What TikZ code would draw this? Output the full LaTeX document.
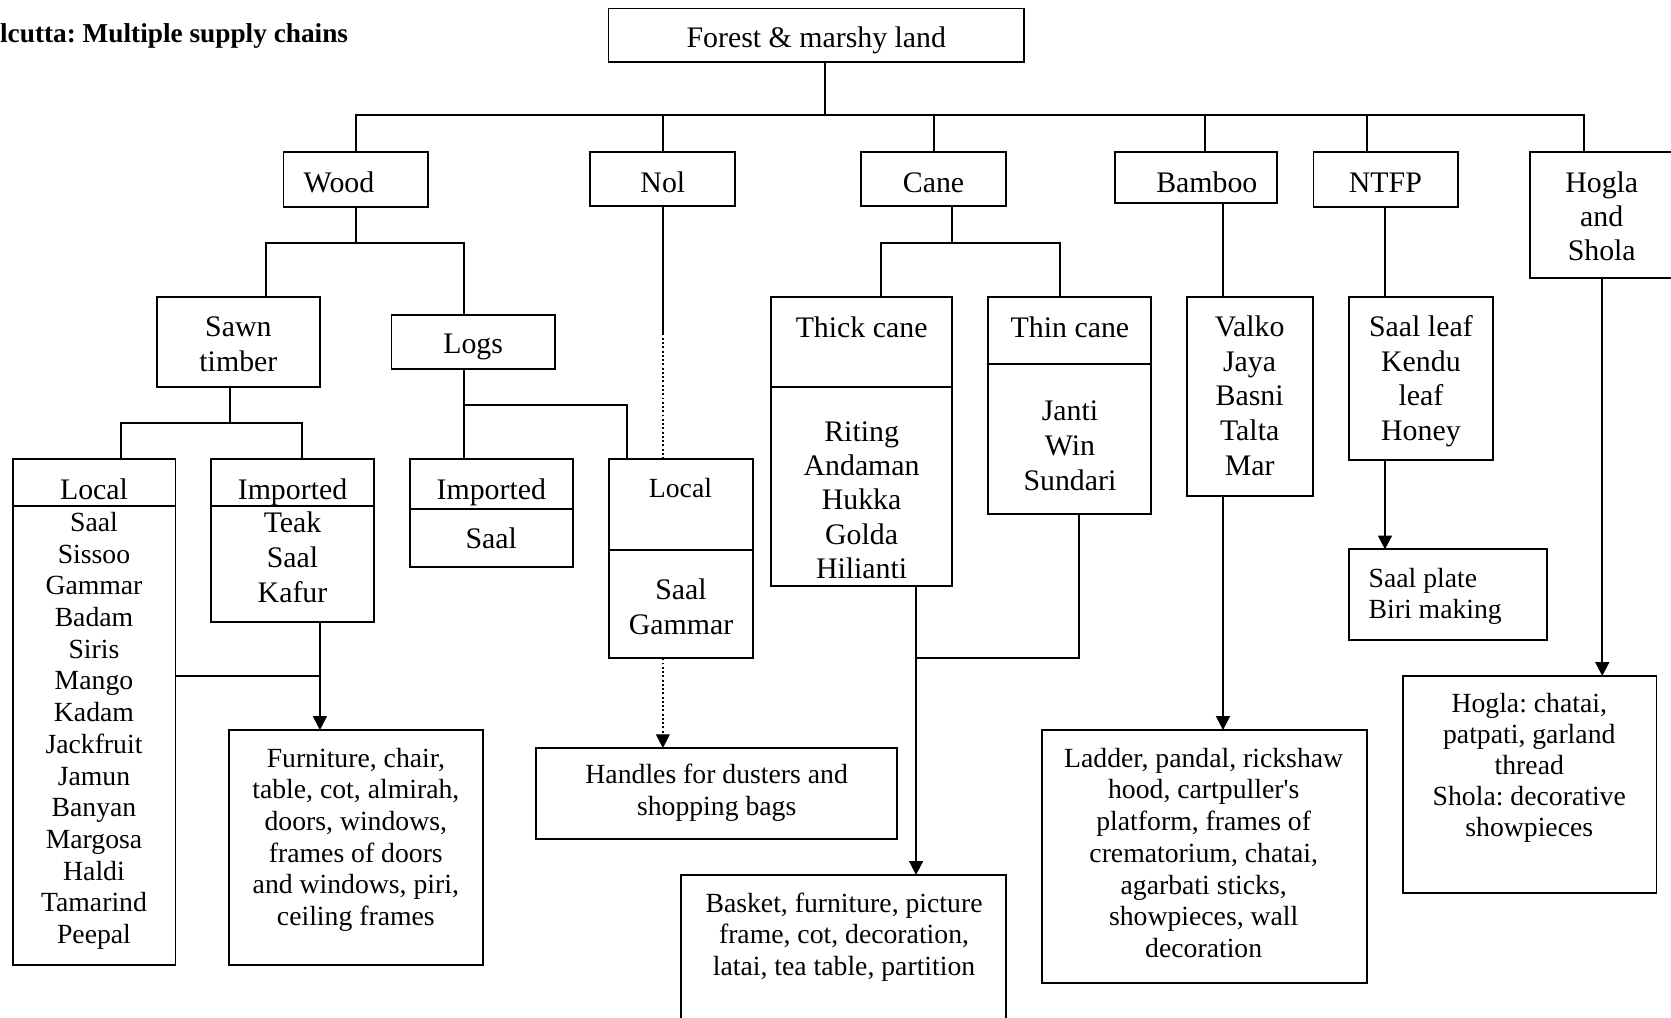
\documentclass[tikz,border=0pt]{standalone}
\usepackage{fontspec}
\setmainfont{Liberation Serif}
\usetikzlibrary{arrows.meta,fit}
% invisible strut fixing the height of a first text line
\newcommand{\fl}{\rule{0pt}{10pt}}
\frenchspacing

\begin{document}
\begin{tikzpicture}[x=0.5pt,y=-0.5pt,
  line width=0.9pt,
  box/.style={draw, inner sep=0pt, outer sep=0pt},
  txt/.style={inner sep=0pt, outer sep=0pt, align=center, anchor=north, yshift=-1pt},
  bigf/.style={font=\fontsize{14}{#1}\selectfont},
  bigf/.default=16.4pt,
  smallf/.style={font=\fontsize{13}{#1}\selectfont},
  smallf/.default=14.9pt,
  arr/.style={-{Triangle[length=6.5pt,width=6.5pt]}},
  dots/.style={line width=0.6pt, dash pattern=on 0.9pt off 1.1pt},
]
\clip (0,0) rectangle (1568,955);

% ---------- title ----------
\node[font=\bfseries\fontsize{12.8}{15}\selectfont, anchor=base east, inner sep=0pt] (title)
  at (327.5,39.6) {lcutta: Multiple supply chains};

% ---------- boxes ----------
\node[box, fit={(571,8) (961,58)}] (forest) {};
\node[box, fit={(266,143) (402,194)}] (wood) {};
\node[box, fit={(554,143) (690,193)}] (nol) {};
\node[box, fit={(808,143) (944,193)}] (cane) {};
\node[box, fit={(1046,143) (1198,190.5)}] (bamboo) {};
\node[box, fit={(1232.5,143) (1368,194)}] (ntfp) {};
\node[box, fit={(1436,142.3) (1580,261.2)}] (hogla) {};

\node[box, fit={(147,278.4) (300.2,363.4)}] (sawn) {};
\node[box, fit={(367.4,295.3) (520.7,346.6)}] (logs) {};
\node[box, fit={(11.8,430.7) (164.7,905.5)}] (localw) {};
\node[box, fit={(198.2,430.7) (350.9,583.4)}] (impw) {};
\node[box, fit={(384.6,430.7) (537.6,532.4)}] (impl) {};
\node[box, fit={(571.2,431) (707,617.7)}] (localn) {};
\node[box, fit={(723.8,278.4) (893.3,549.6)}] (thick) {};
\node[box, fit={(927.4,278.4) (1080.4,482.3)}] (thin) {};
\node[box, fit={(1113.4,278.4) (1231.9,465.1)}] (valko) {};
\node[box, fit={(1265.6,278.4) (1400.9,431.7)}] (saalleaf) {};
\node[box, fit={(1265.6,515.5) (1451.7,600.6)}] (saalplate) {};

\node[box, fit={(214.9,685) (452.8,905.5)}] (furn) {};
\node[box, fit={(503,702) (842,787)}] (handles) {};
\node[box, fit={(639.3,821) (944,985)}] (basket) {};
\node[box, fit={(977.8,685) (1283,922.7)}] (ladder) {};
\node[box, fit={(1316.8,634.3) (1554.4,838.2)}] (hoglap) {};

% header dividers
\coordinate (dW) at (0,474.5);
\coordinate (dI) at (0,477.6);
\coordinate (dN) at (0,516);
\coordinate (dT) at (0,363.4);
\coordinate (dH) at (0,341.9);
\draw (localw.west |- dW) -- (localw.east |- dW);
\draw (impw.west |- dW) -- (impw.east |- dW);
\draw (impl.west |- dI) -- (impl.east |- dI);
\draw (localn.west |- dN) -- (localn.east |- dN);
\draw (thick.west |- dT) -- (thick.east |- dT);
\draw (thin.west |- dH) -- (thin.east |- dH);

% ---------- texts ----------
\node[txt, bigf] (t-forest) at (766,22.2) {\fl Forest \& marshy land};
\node[txt, bigf, anchor=north west] (t-wood) at (285,158.3) {\fl Wood};
\node[txt, bigf] (t-nol) at (622,158.3) {\fl Nol};
\node[txt, bigf] (t-cane) at (876,158.3) {\fl Cane};
\node[txt, bigf, anchor=north west] (t-bamboo) at (1085,158.3) {\fl Bamboo};
\node[txt, bigf] (t-ntfp) at (1300,158.3) {\fl NTFP};
\node[txt, bigf=16pt] (t-hogla) at (1503,158.3) {\fl Hogla\\and\\Shola};

\node[txt, bigf=16.45pt] (t-sawn) at (223.7,293.7) {\fl Sawn\\timber};
\node[txt, bigf] (t-logs) at (444,310) {\fl Logs};

\node[txt, bigf] (t-localw) at (88.2,446.5) {\fl Local};
\node[txt, smallf=14.88pt] (t-localw-l) at (88.2,476.6)
  {\fl Saal\\Sissoo\\Gammar\\Badam\\Siris\\Mango\\Kadam\\Jackfruit\\Jamun\\Banyan\\Margosa\\Haldi\\Tamarind\\Peepal};
\node[txt, bigf] (t-impw) at (274.5,446.5) {\fl Imported};
\node[txt, bigf=16.45pt] (t-impw-l) at (274.5,478) {\fl Teak\\Saal\\Kafur};
\node[txt, bigf] (t-impl) at (461,446.5) {\fl Imported};
\node[txt, bigf] (t-impl-l) at (461,493) {\fl Saal};
\node[txt, smallf] (t-localn) at (638.5,444.5) {\fl Local};
\node[txt, bigf=16.6pt] (t-localn-l) at (639,540.5) {\fl Saal\\Gammar};

\node[txt, bigf] (t-thick) at (808.5,294.4) {\fl Thick cane};
\node[txt, bigf=16.1pt] (t-thick-l) at (808.5,392)
  {\fl Riting\\Andaman\\Hukka\\Golda\\Hilianti};
\node[txt, bigf] (t-thin) at (1004,294.4) {\fl Thin cane};
\node[txt, bigf=16.45pt] (t-thin-l) at (1004,372.5) {\fl Janti\\Win\\Sundari};
\node[txt, bigf=16.3pt] (t-valko) at (1172.6,293.7) {\fl Valko\\Jaya\\Basni\\Talta\\Mar};
\node[txt, bigf=16.3pt] (t-saalleaf) at (1333.3,293.7) {\fl Saal leaf\\Kendu\\leaf\\Honey};
\node[txt, smallf=14.85pt, align=left, anchor=north west] (t-saalplate) at (1284.3,529)
  {\fl Saal plate\\Biri making};

\node[txt, smallf=14.85pt] (t-furn) at (333.9,697.8)
  {\fl Furniture, chair,\\table, cot, almirah,\\doors, windows,\\frames of doors\\and windows, piri,\\ceiling frames};
\node[txt, smallf=14.85pt] (t-handles) at (672.5,713.5)
  {\fl Handles for dusters and\\shopping bags};
\node[txt, smallf=14.9pt] (t-basket) at (792,833.9)
  {\fl Basket, furniture, picture\\frame, cot, decoration,\\latai, tea table, partition};
\node[txt, smallf=14.9pt] (t-ladder) at (1129.5,697.8)
  {\fl Ladder, pandal, rickshaw\\hood, cartpuller\textquotesingle s\\platform, frames of\\crematorium, chatai,\\agarbati sticks,\\showpieces, wall\\decoration};
\node[txt, smallf=14.6pt] (t-hoglap) at (1435,646.2)
  {\fl Hogla: chatai,\\patpati, garland\\thread\\Shola: decorative\\showpieces};

% ---------- connectors ----------
% top level bus
\coordinate (stem) at (774,108);
\coordinate (busL) at (334,108);
\coordinate (busR) at (1486.5,108);
\coordinate (xBam) at (1131,108);
\coordinate (xNt) at (1283,108);
\draw (forest.south -| stem) -- (stem);
\draw (wood.north) -- (busL) -- (busR) -- (hogla.north -| busR);
\draw (nol.north) -- (nol.north |- stem);
\draw (cane.north) -- (cane.north |- stem);
\draw (bamboo.north -| xBam) -- (xBam);
\draw (ntfp.north -| xNt) -- (xNt);

% wood branch
\coordinate (wJ) at (334,228);
\coordinate (wL) at (249.6,228);
\coordinate (wR) at (435.6,228);
\draw (wood.south) -- (wJ);
\draw (sawn.north -| wL) -- (wL) -- (wR) -- (logs.north -| wR);

% sawn timber branch
\coordinate (sJ) at (215.5,397.3);
\coordinate (sL) at (113.5,397.3);
\coordinate (sR) at (283.4,397.3);
\draw (sawn.south -| sJ) -- (sJ);
\draw (localw.north -| sL) -- (sL) -- (sR) -- (impw.north -| sR);

% logs branch
\coordinate (lJ) at (435.6,380);
\coordinate (lR) at (588,380);
\draw (logs.south -| lJ) -- (impl.north -| lJ);
\draw (lJ) -- (lR) -- (localn.north -| lR);

% nol chain
\coordinate (nX) at (622,313);
\draw (nol.south) -- (nX);
\draw[dots] (nX) -- (localn.north -| nX);
\draw[dots, arr] (localn.south -| nX) -- (handles.north -| nX);

% cane branch
\coordinate (cJ) at (893,227.7);
\coordinate (cL) at (826.3,227.7);
\coordinate (cR) at (994.9,227.7);
\draw (cane.south -| cJ) -- (cJ);
\draw (thick.north -| cL) -- (cL) -- (cR) -- (thin.north -| cR);
\coordinate (tK) at (859.6,617.2);
\coordinate (tN) at (1012.2,617.2);
\draw[arr] (thick.south -| tK) -- (basket.north -| tK);
\draw (thin.south -| tN) -- (tN) -- (tK);

% bamboo chain
\coordinate (bX) at (1147.6,200);
\draw (bamboo.south -| bX) -- (valko.north -| bX);
\draw[arr] (valko.south -| bX) -- (ladder.north -| bX);

% NTFP chain
\coordinate (nT) at (1299.6,200);
\draw (ntfp.south -| nT) -- (saalleaf.north -| nT);
\draw[arr] (saalleaf.south -| nT) -- (saalplate.north -| nT);

% hogla chain
\coordinate (hX) at (1503.5,300);
\draw[arr] (hogla.south -| hX) -- (hoglap.north -| hX);

% wood products
\coordinate (fJ) at (300.2,634.5);
\draw[arr] (impw.south -| fJ) -- (furn.north -| fJ);
\draw (localw.east |- fJ) -- (fJ);
\end{tikzpicture}
\end{document}
